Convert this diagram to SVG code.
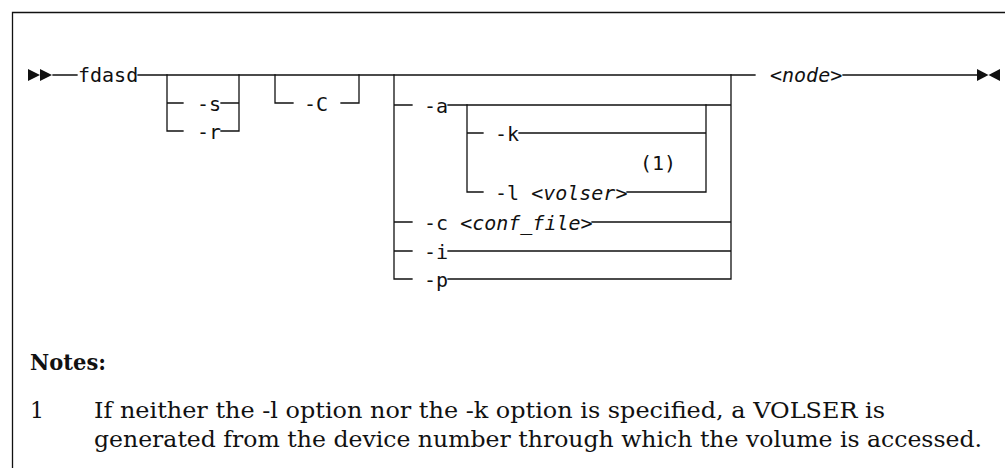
<svg xmlns="http://www.w3.org/2000/svg" width="1005" height="468" viewBox="0 0 1005 468">
<style>
.ln{fill:none;stroke:#111;stroke-width:1.3;stroke-linecap:square}
.m{font-family:"DejaVu Sans Mono","Liberation Mono",monospace;font-size:20px;fill:#111}
.it{font-style:italic}
.nt{font-family:"DejaVu Serif","Liberation Serif",serif;font-size:22px;fill:#111}
.ar{fill:#111}
</style>
<rect width="1005" height="468" fill="#fff"/>
<path class="ln" d="M12.5 468 V12.5 H1005"/>
<g id="connectors">
<path class="ln" d="M53 75 H77 M138 75 H755 M843 75 H977"/>
<path class="ln" d="M167 75 V131 H183 M167 103 H183 M221 103 H239 M221 131 H239 M239 75 V131"/>
<path class="ln" d="M275 75 V103 H293 M341 103 H359 V75"/>
<path class="ln" d="M394 75 V279 H412 M394 105 H412 M394 222 H412 M394 251 H412"/>
<path class="ln" d="M448 105 H731 M448 251 H731 M448 279 H731 M592 222 H731 M731 75 V279"/>
<path class="ln" d="M467 105 V192 H483 M467 133 H483 M519 133 H706 M627 192 H706 M706 105 V192"/>
<polygon class="ar" points="28,69 40,75 28,81"/>
<polygon class="ar" points="40,69 52,75 40,81"/>
<polygon class="ar" points="977,69 988.5,75 977,81"/>
<polygon class="ar" points="1000,69 988.5,75 1000,81"/>
</g>
<g id="cmd"><text class="m" x="78" y="82">fdasd</text></g>
<g id="opt-s"><text class="m" x="197" y="111">-s</text></g>
<g id="opt-r"><text class="m" x="197" y="139">-r</text></g>
<g id="opt-C"><text class="m" x="304" y="111">-C</text></g>
<g id="opt-a"><text class="m" x="424" y="113">-a</text></g>
<g id="opt-k"><text class="m" x="495" y="141">-k</text></g>
<g id="opt-l"><text class="m" x="495" y="200">-l <tspan class="it">&lt;volser&gt;</tspan></text></g>
<g id="note-ref"><text class="m" x="640" y="170">(1)</text></g>
<g id="opt-c"><text class="m" x="424" y="230">-c <tspan class="it">&lt;conf_file&gt;</tspan></text></g>
<g id="opt-i"><text class="m" x="424" y="259">-i</text></g>
<g id="opt-p"><text class="m" x="424" y="287">-p</text></g>
<g id="node"><text class="m it" x="770" y="82">&lt;node&gt;</text></g>
<g id="notes">
<text class="nt" x="30" y="370" font-size="23" font-weight="bold" textLength="76" lengthAdjust="spacingAndGlyphs">Notes:</text>
<text class="nt" x="30" y="418">1</text>
<text class="nt" x="94" y="418" textLength="791" lengthAdjust="spacingAndGlyphs">If neither the -l option nor the -k option is specified, a VOLSER is</text>
<text class="nt" x="94" y="447" textLength="888" lengthAdjust="spacingAndGlyphs">generated from the device number through which the volume is accessed.</text>
</g>
</svg>
